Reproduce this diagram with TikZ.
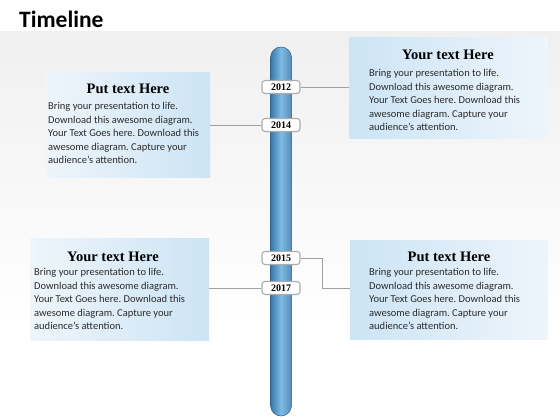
\documentclass[tikz,border=0pt]{standalone}
\usepackage{fontspec}
\setmainfont{Carlito}
\newfontfamily\slabfont{Liberation Serif}
\frenchspacing
\usetikzlibrary{calc}
\definecolor{boxblue}{HTML}{CCE4F5}
\definecolor{boxpale}{HTML}{EEF5FB}
\definecolor{tubedark}{HTML}{3A77A8}
\definecolor{tubelight}{HTML}{7CBBE4}
\definecolor{tubeline}{HTML}{2E5E86}
\definecolor{bodytext}{HTML}{2B2B2B}
\definecolor{linkgray}{HTML}{A0A0A0}
\tikzset{
  heading/.style={font=\slabfont\bfseries\fontsize{14.5}{16}\selectfont, text=black, inner sep=0pt, anchor=base},
  bodytxt/.style={font=\fontsize{10.5}{13.6}\selectfont, text=bodytext, align=left, inner sep=0pt, anchor=north west},
  yearlbl/.style={draw=gray!65, line width=1.1pt, fill=white, rounded corners=3pt,
    minimum width=38pt, minimum height=13pt, inner sep=0pt,
    font=\slabfont\bfseries\fontsize{10}{10}\selectfont},
  link/.style={draw=linkgray, line width=0.6pt}
}
\begin{document}
\begin{tikzpicture}[x=1pt,y=-1pt]
\useasboundingbox (0,0) rectangle (560,420);
% background
\fill[white] (0,0) rectangle (560,420);
\shade[top color=gray!12, bottom color=white] (0,32) rectangle (560,330);
\fill[white] (0,330) rectangle (560,420);
% title
\node[font=\bfseries\fontsize{23.5}{25}\selectfont, anchor=base west, inner sep=0pt] (title) at (19,28) {Timeline};
% boxes
\shade[left color=boxpale, right color=boxblue] (45,73) rectangle (210,177);
\shade[left color=boxblue, right color=boxpale] (349,38) rectangle (548,138);
\shade[left color=boxpale, right color=boxblue] (30,238) rectangle (209,340);
\shade[left color=boxblue, right color=boxpale] (350,240) rectangle (548,339);
\coordinate (tlR) at (210,125);
\coordinate (trL) at (349,87);
\coordinate (blR) at (209,288);
\coordinate (brL) at (350,288);
% texts
\node[heading] (h1) at (128,93) {Put text Here};
\node[bodytxt] (b1) at (48,102) {Bring your presentation to life.\\Download this awesome diagram.\\Your Text Goes here. Download this\\awesome diagram. Capture your\\audience’s attention.};
\node[heading] (h2) at (448,60) {Your text Here};
\node[bodytxt] (b2) at (369,69) {Bring your presentation to life.\\Download this awesome diagram.\\Your Text Goes here. Download this\\awesome diagram. Capture your\\audience’s attention.};
\node[heading] (h3) at (113,261) {Your text Here};
\node[bodytxt] (b3) at (34,268) {Bring your presentation to life.\\Download this awesome diagram.\\Your Text Goes here. Download this\\awesome diagram. Capture your\\audience’s attention.};
\node[heading] (h4) at (449,261) {Put text Here};
\node[bodytxt] (b4) at (369,268) {Bring your presentation to life.\\Download this awesome diagram.\\Your Text Goes here. Download this\\awesome diagram. Capture your\\audience’s attention.};
% tube
\shade[left color=tubedark, right color=tubedark!85, middle color=tubelight, draw=tubeline, line width=0.5pt, rounded corners=10.5pt] (270.5,47) rectangle (291.5,416);
% year labels
\node[yearlbl] (y12) at (281,87) {2012};
\node[yearlbl] (y14) at (281,125) {2014};
\node[yearlbl] (y15) at (281,258) {2015};
\node[yearlbl] (y17) at (281,288) {2017};
% connectors
\draw[link] (y12.east) -- (trL);
\draw[link] (y14.west) -- (tlR);
\draw[link] (y15.east) -- (322,258) -- (322,288) -- (brL);
\draw[link] (y17.west) -- (blR);
\end{tikzpicture}
\end{document}
